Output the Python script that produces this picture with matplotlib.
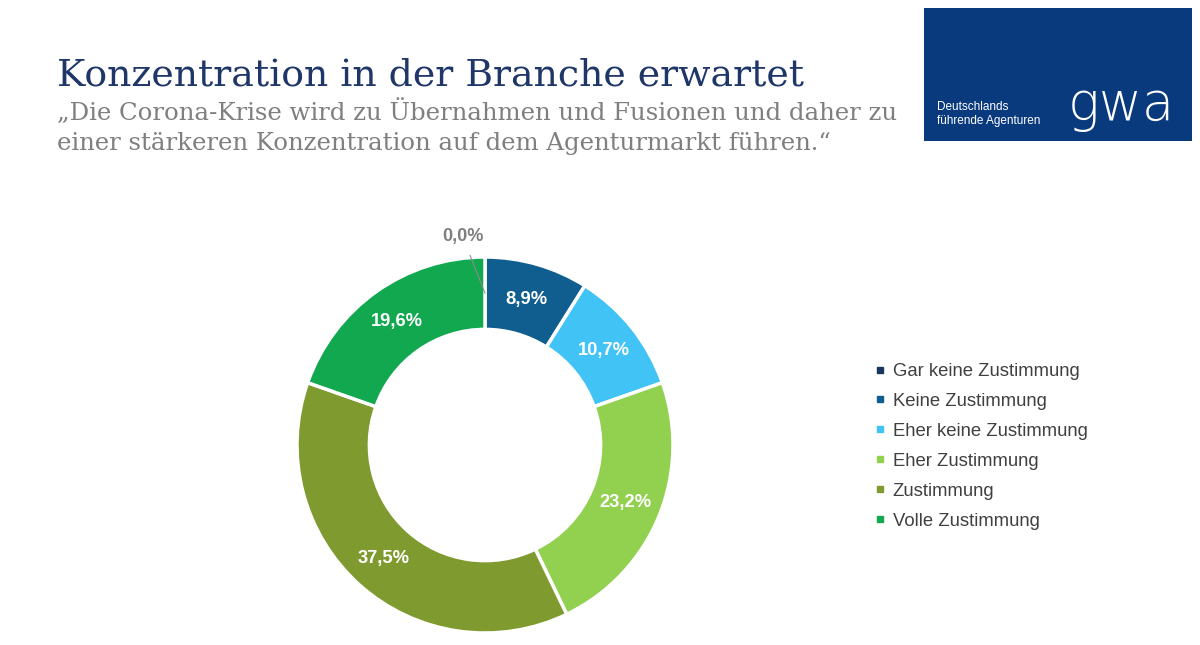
import matplotlib.pyplot as plt
import numpy as np
from matplotlib.lines import Line2D
from matplotlib.patches import Rectangle

# data
categories = ["Gar keine Zustimmung", "Keine Zustimmung", "Eher keine Zustimmung",
              "Eher Zustimmung", "Zustimmung", "Volle Zustimmung"]
values = [0.0, 8.9, 10.7, 23.2, 37.5, 19.6]
value_labels = ["0,0%", "8,9%", "10,7%", "23,2%", "37,5%", "19,6%"]
colors = ["#17375e", "#0f5e8f", "#41c3f5", "#92d050", "#7f9a2e", "#11a84f"]

W, H = 1200, 645
fig = plt.figure(figsize=(12, 6.45), dpi=100)
fig.patch.set_facecolor("white")

# title block
fig.text(57 / W, 1 - 85 / H, "Konzentration in der Branche erwartet",
         fontsize=27.3, color="#1f3668", family="DejaVu Serif", va="baseline")
fig.text(57 / W, 1 - 120 / H, "\u201eDie Corona-Krise wird zu \u00dcbernahmen und Fusionen und daher zu",
         fontsize=17.6, color="#7f7f7f", family="DejaVu Serif", va="baseline")
fig.text(57 / W, 1 - 150 / H, "einer st\u00e4rkeren Konzentration auf dem Agenturmarkt f\u00fchren.\u201c",
         fontsize=17.6, color="#7f7f7f", family="DejaVu Serif", va="baseline")

# logo box
fig.patches.append(Rectangle((924 / W, 1 - 141 / H), 268 / W, 133 / H,
                             transform=fig.transFigure, facecolor="#0a3a7e",
                             edgecolor="none"))
fig.text(937 / W, 1 - 110 / H, "Deutschlands", fontsize=8.5, color="white",
         family="Liberation Sans", va="baseline")
fig.text(937 / W, 1 - 124 / H, "f\u00fchrende Agenturen", fontsize=8.5, color="white",
         family="Liberation Sans", va="baseline")
fig.text(1068 / W, 1 - 120 / H, "gwa", fontsize=38, color="white",
         family="DejaVu Sans", weight="light", va="baseline")

# donut
cx, cy, R = 485, 445, 188
ax = fig.add_axes([(cx - R) / W, (H - cy - R) / H, 2 * R / W, 2 * R / H])
wedges, _ = ax.pie(values, colors=colors, startangle=90, counterclock=False,
                   radius=1, wedgeprops=dict(width=0.385, edgecolor="white", linewidth=2.5))
ax.set_xlim(-1, 1)
ax.set_ylim(-1, 1)
ax.set_aspect("equal")
ax.axis("off")

for w, lab, v in zip(wedges, value_labels, values):
    ang = np.deg2rad((w.theta1 + w.theta2) / 2)
    r = 0.807
    if v == 0:
        ax.annotate(lab, xy=(r * np.cos(ang), r * np.sin(ang)), xytext=(-0.12, 1.11),
                    ha="center", va="center", fontsize=13, weight="bold", color="#7f7f7f",
                    family="Liberation Sans",
                    arrowprops=dict(arrowstyle="-", color="#8c8c8c", lw=0.8,
                                    shrinkA=6, shrinkB=0))
    else:
        ax.text(r * np.cos(ang), r * np.sin(ang), lab, ha="center", va="center",
                fontsize=13.2, weight="bold", color="white", family="Liberation Sans")

# legend
handles = [Line2D([], [], marker="s", linestyle="none", markersize=4.5,
                  markerfacecolor=c, markeredgecolor=c) for c in colors]
leg = fig.legend(handles, categories, loc="upper left",
                 bbox_to_anchor=(875 / W, 1 - 363 / H), frameon=False,
                 prop=dict(family="Liberation Sans", size=13.3),
                 handlelength=0.5, handletextpad=0.45, labelspacing=0.7,
                 borderaxespad=0, borderpad=0)
for t in leg.get_texts():
    t.set_color("#404040")

fig.savefig("out.png", dpi=100)
